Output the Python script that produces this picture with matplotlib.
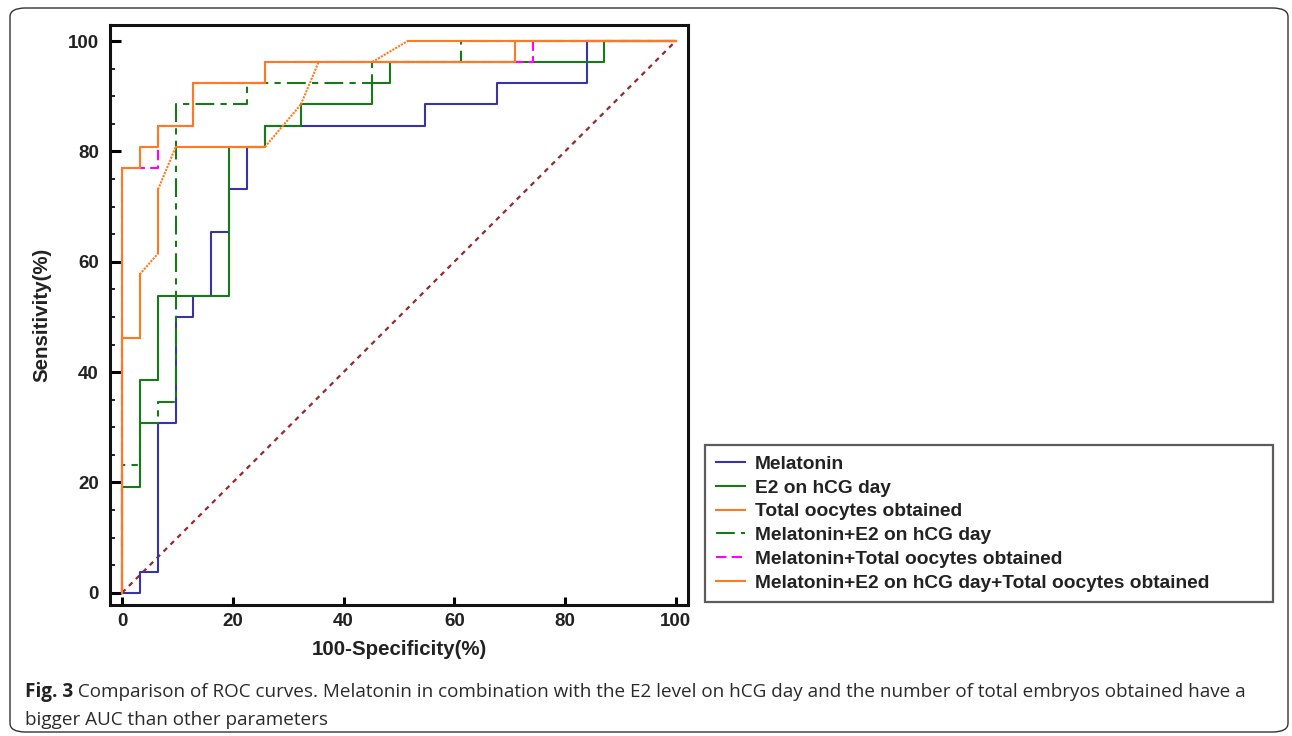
import numpy as np
import matplotlib
matplotlib.use("Agg")
import matplotlib.pyplot as plt
from matplotlib.patches import FancyBboxPatch

# ---------------- data (ROC operating points, %) ----------------
mel_fpr = [0, 3.2, 3.2, 6.5, 6.5, 9.7, 9.7, 12.9, 12.9, 16.1, 16.1, 19.4, 19.4,
           22.6, 22.6, 25.8, 25.8, 54.8, 54.8, 67.7, 67.7, 83.9, 83.9, 100]
mel_tpr = [0, 0, 3.8, 3.8, 30.8, 30.8, 50.0, 50.0, 53.8, 53.8, 65.4, 65.4, 73.1,
           73.1, 80.8, 80.8, 84.6, 84.6, 88.5, 88.5, 92.3, 92.3, 100, 100]

e2_fpr = [0, 0, 3.2, 3.2, 6.5, 6.5, 19.4, 19.4, 25.8, 25.8, 32.3, 32.3, 45.2,
          45.2, 48.4, 48.4, 87.1, 87.1, 100]
e2_tpr = [0, 19.2, 19.2, 38.5, 38.5, 53.8, 53.8, 80.8, 80.8, 84.6, 84.6, 88.5,
          88.5, 92.3, 92.3, 96.2, 96.2, 100, 100]

tot_fpr = [0, 0, 3.2, 3.2, 6.5, 6.5, 9.7, 25.8, 32.3, 35.5, 45.2, 51.6, 100]
tot_tpr = [0, 46.2, 46.2, 57.7, 61.5, 73.1, 80.8, 80.8, 88.5, 96.2, 96.2, 100, 100]

mele2_fpr = [0, 0, 3.2, 3.2, 6.5, 6.5, 9.7, 9.7, 22.6, 22.6, 45.2, 45.2, 61.3, 61.3, 100]
mele2_tpr = [0, 23.1, 23.1, 30.8, 30.8, 34.6, 34.6, 88.5, 88.5, 92.3, 92.3, 96.2, 96.2, 100, 100]

meltot_fpr = [0, 0, 6.5, 6.5, 12.9, 12.9, 25.8, 25.8, 74.2, 74.2, 100]
meltot_tpr = [0, 76.9, 76.9, 84.6, 84.6, 92.3, 92.3, 96.2, 96.2, 100, 100]

comb_fpr = [0, 0, 3.2, 3.2, 6.5, 6.5, 12.9, 12.9, 25.8, 25.8, 71.0, 71.0, 100]
comb_tpr = [0, 76.9, 76.9, 80.8, 80.8, 84.6, 84.6, 92.3, 92.3, 96.2, 96.2, 100, 100]

labels = ["Melatonin", "E2 on hCG day", "Total oocytes obtained",
          "Melatonin+E2 on hCG day", "Melatonin+Total oocytes obtained",
          "Melatonin+E2 on hCG day+Total oocytes obtained"]
x_ticks = [0, 20, 40, 60, 80, 100]
y_ticks = [0, 20, 40, 60, 80, 100]

caption_bold = "Fig. 3"
caption_rest = (" Comparison of ROC curves. Melatonin in combination with the E2 level "
                "on hCG day and the number of total embryos obtained have a")
caption_line2 = "bigger AUC than other parameters"

# ---------------- style ----------------
BLUE = "#3535a8"
GREEN = "#167a16"
ORANGE = "#ff7a1f"
MAGENTA = "#ff00ff"
DIAG = "#952a2a"
FONT = ["Liberation Sans", "DejaVu Sans"]

W, H = 1292, 736
fig = plt.figure(figsize=(W / 100, H / 100), dpi=100)

def fx(px):
    return px / W

def fy(py):
    return 1 - py / H

# outer rounded border
border = FancyBboxPatch((fx(10), fy(732)), fx(1288) - fx(10), fy(8) - fy(732),
                        boxstyle="round,pad=0,rounding_size=0.012",
                        transform=fig.transFigure, fill=False,
                        edgecolor="#333333", linewidth=1.0)
fig.patches.append(border)

ax = fig.add_axes([fx(110), fy(605), fx(688) - fx(110), fy(25) - fy(605)])
ax.set_xlim(-2.17, 102.2)
ax.set_ylim(-2.2, 102.9)

lw = 1.5
# reference diagonal
ax.plot([0, 100], [0, 100], color=DIAG, lw=1.6, ls=(0, (2.2, 2.2)), zorder=1)

ax.plot(mel_fpr, mel_tpr, color=BLUE, lw=lw, label=labels[0], zorder=2)
ax.plot(e2_fpr, e2_tpr, color=GREEN, lw=lw, label=labels[1], zorder=3)
ax.plot(mele2_fpr, mele2_tpr, color=GREEN, lw=lw, ls=(0, (9, 3, 3, 3)),
        label=labels[3], zorder=4)
ax.plot(meltot_fpr, meltot_tpr, color=MAGENTA, lw=lw, ls=(0, (5, 2.5)),
        label=labels[4], zorder=5)

# total oocytes: solid steps, dotted diagonal (tie) segments
sx, sy, dx, dy = [], [], [], []
for i in range(len(tot_fpr) - 1):
    x0, x1 = tot_fpr[i], tot_fpr[i + 1]
    y0, y1 = tot_tpr[i], tot_tpr[i + 1]
    if x0 != x1 and y0 != y1:
        dx += [x0, x1, np.nan]
        dy += [y0, y1, np.nan]
    else:
        sx += [x0, x1, np.nan]
        sy += [y0, y1, np.nan]
ax.plot(sx, sy, color=ORANGE, lw=lw, solid_capstyle="projecting",
        label=labels[2], zorder=6)
ax.plot(dx, dy, color=ORANGE, lw=lw, ls=(0, (1, 0.6)), zorder=6)

ax.plot(comb_fpr, comb_tpr, color=ORANGE, lw=lw, label=labels[5], zorder=7)

# axes styling
for s in ax.spines.values():
    s.set_linewidth(2.2)
    s.set_color("#111111")
ax.set_xticks(x_ticks)
ax.set_yticks(y_ticks)
ax.set_yticks([v for v in range(0, 101, 5) if v % 20], minor=True)
ax.tick_params(axis="y", which="major", direction="in", length=8, width=2.2, pad=8)
ax.tick_params(axis="y", which="minor", direction="in", length=3.5, width=1.2)
ax.tick_params(axis="x", which="major", direction="in", length=5.5, width=2.2, pad=6)
for t in ax.get_xticklabels() + ax.get_yticklabels():
    t.set_fontfamily(FONT)
    t.set_fontweight("bold")
    t.set_fontsize(13.5)
    t.set_color("#222222")

ax.set_xlabel("100-Specificity(%)", fontfamily=FONT, fontweight="bold",
              fontsize=14.8, color="#222222", labelpad=7)
ax.set_ylabel("Sensitivity(%)", fontfamily=FONT, fontweight="bold",
              fontsize=14.8, color="#222222", labelpad=12)

# legend
h, l = ax.get_legend_handles_labels()
hmap = dict(zip(l, h))
leg = fig.legend([hmap[x] for x in labels], labels,
                 loc="upper left",
                 bbox_to_anchor=(fx(705), fy(445), fx(1273) - fx(705), 0),
                 mode="expand", borderaxespad=0, frameon=True, fancybox=False,
                 prop={"family": FONT, "weight": "bold", "size": 13.8},
                 handlelength=1.55, handletextpad=0.5, labelspacing=0.33,
                 borderpad=0.55)
leg.get_frame().set_edgecolor("#333333")
leg.get_frame().set_linewidth(1.6)
for t in leg.get_texts():
    t.set_color("#222222")

# caption
cfont = ["Open Sans", "DejaVu Sans"]
t1 = fig.text(fx(25), fy(697), caption_bold, fontfamily=cfont, fontweight="bold",
              fontsize=13.6, va="baseline", ha="left", color="#222222")
fig.canvas.draw()
bb = t1.get_window_extent()
fig.text(bb.x1 / W, fy(697), caption_rest, fontfamily=cfont, fontsize=13.6,
         va="baseline", ha="left", color="#2a2a2a")
fig.text(fx(25), fy(725), caption_line2, fontfamily=cfont, fontsize=13.6,
         va="baseline", ha="left", color="#2a2a2a")

fig.savefig("out.png", dpi=100)
